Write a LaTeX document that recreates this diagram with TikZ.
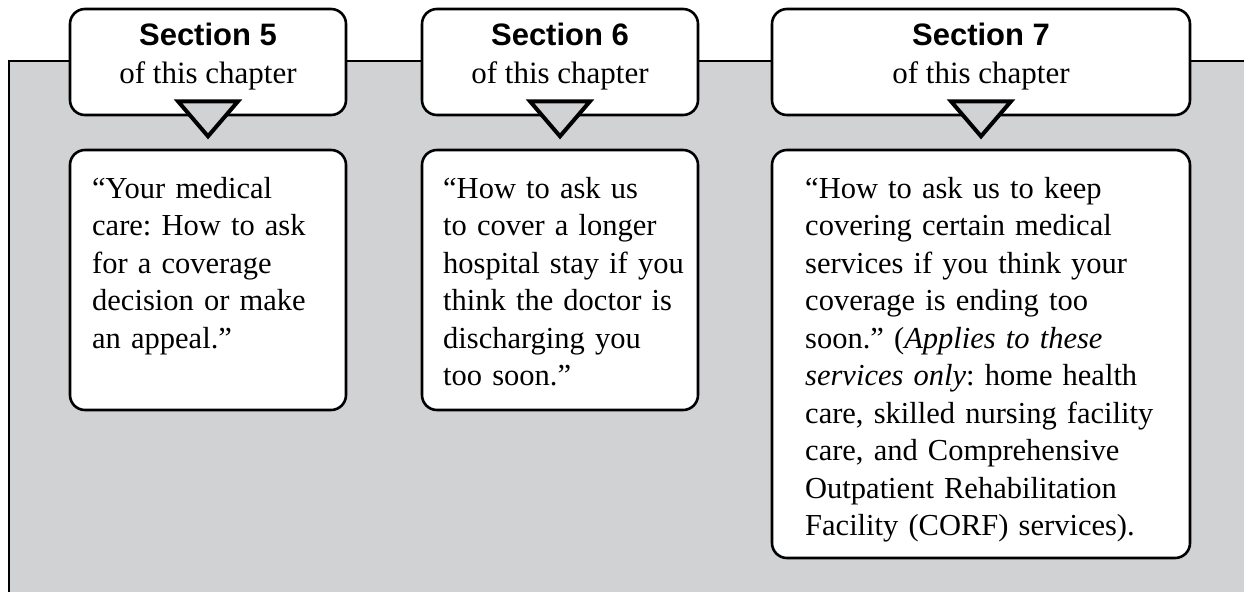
\documentclass[tikz,border=0pt]{standalone}
\usepackage{fontspec}
\setmainfont{Liberation Serif}
\setsansfont{Liberation Sans}
\usetikzlibrary{calc}
\definecolor{bggray}{RGB}{209,210,212}
\frenchspacing
\begin{document}
\begin{tikzpicture}[x=1pt,y=-1pt,
  secbox/.style={draw=black, fill=white, line width=2.6pt, rounded corners=15pt, inner sep=0pt},
  txtbox/.style={draw=black, fill=white, line width=2.6pt, rounded corners=15pt, inner sep=0pt},
  sectitle/.style={font=\sffamily\bfseries\fontsize{31}{38}\selectfont, inner sep=0pt},
  sectsub/.style={font=\fontsize{31}{38}\selectfont, inner sep=0pt},
  bodytxt/.style={font=\frenchspacing\fontsize{30.5}{37.5}\selectfont, inner sep=0pt, align=left},
  pointer/.style={draw=black, fill=bggray, line width=4pt, line join=miter}
]
\useasboundingbox (0,0) rectangle (1244,592);
% background panel
\fill[bggray] (9,61) rectangle (1244,592);
\draw[line width=2pt] (9,592) -- (9,61) -- (1244,61);

% top section boxes
\node[secbox, minimum width=276pt, minimum height=106pt] (s5) at (208,62) {};
\node[secbox, minimum width=276pt, minimum height=106pt] (s6) at (560,62) {};
\node[secbox, minimum width=418pt, minimum height=106pt] (s7) at (981,62) {};

\node[sectitle, anchor=base] (h5) at (208,45) {Section 5};
\node[sectsub, anchor=base] (o5) at (208,83) {of this chapter};
\node[sectitle, anchor=base] (h6) at (560,45) {Section 6};
\node[sectsub, anchor=base] (o6) at (560,83) {of this chapter};
\node[sectitle, anchor=base] (h7) at (981,45) {Section 7};
\node[sectsub, anchor=base] (o7) at (981,83) {of this chapter};

% pointers
\foreach \s in {s5,s6,s7}{
  \draw[pointer] ($(\s.south)+(-30,-15)$) -- ($(\s.south)+(30,-15)$) -- ($(\s.south)+(0,20)$) -- cycle;
}

% lower text boxes
\node[txtbox, minimum width=276pt, minimum height=260pt] (b5) at (208,280) {};
\node[txtbox, minimum width=276pt, minimum height=260pt] (b6) at (560,280) {};
\node[txtbox, minimum width=418pt, minimum height=408pt] (b7) at (981,354) {};

\node[bodytxt, anchor=base west, text width=250pt] (t5) at (92,198)
  {“Your medical\\care: How to ask\\for a coverage\\decision or make\\an appeal.”};
\node[bodytxt, anchor=base west, text width=250pt] (t6) at (443,198)
  {“How to ask us\\to cover a longer\\hospital stay if you\\think the doctor is\\discharging you\\too soon.”};
\node[bodytxt, anchor=base west, text width=380pt] (t7) at (805,198)
  {“How to ask us to keep\\covering certain medical\\services if you think your\\coverage is ending too\\soon.” (\textit{Applies to these}\\\textit{services only}: home health\\care, skilled nursing facility\\care, and Comprehensive\\Outpatient Rehabilitation\\Facility (CORF) services).};
\end{tikzpicture}
\end{document}
